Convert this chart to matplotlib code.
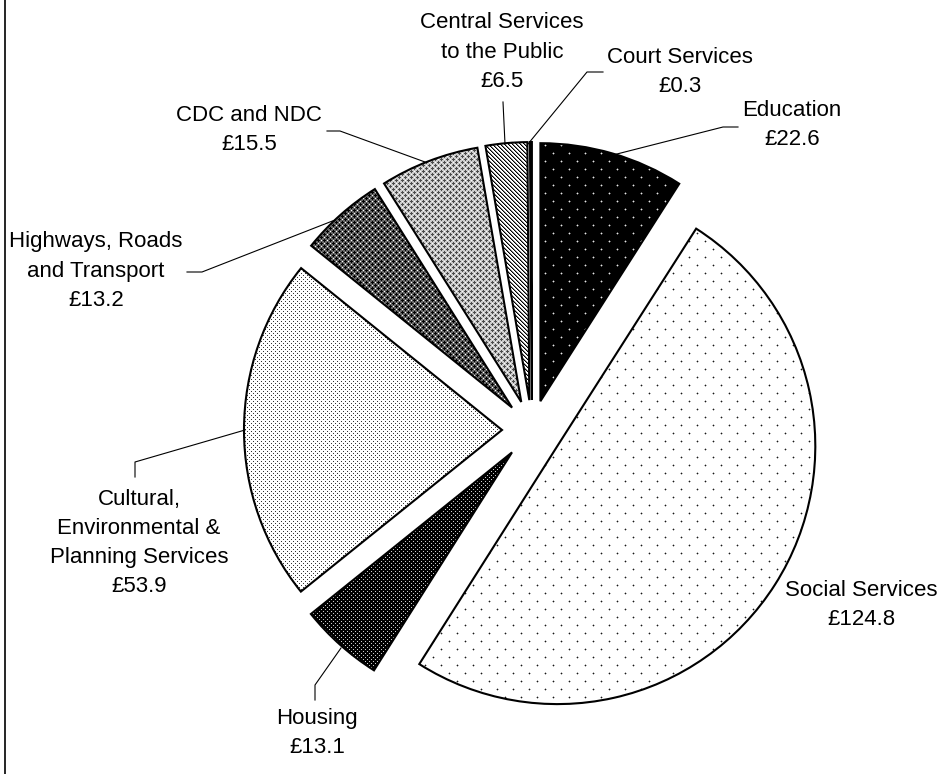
import numpy as np
import matplotlib
matplotlib.use('Agg')
import matplotlib.pyplot as plt

plt.rcParams['font.family'] = ['Liberation Sans', 'DejaVu Sans']

# spending by service, £m
services = ['Education', 'Social Services', 'Housing',
            'Cultural,\nEnvironmental &\nPlanning Services',
            'Highways, Roads\nand Transport', 'CDC and NDC',
            'Central Services\nto the Public', 'Court Services']
spend = [22.6, 124.8, 13.1, 53.9, 13.2, 15.5, 6.5, 0.3]

W, H = 943, 774


def tile(cell):
    cell = np.asarray(cell, float)
    ny = H // cell.shape[0] + 1
    nx = W // cell.shape[1] + 1
    return np.tile(cell, (ny, nx))[:H, :W]


def dots(size, bg, fg, halo=None):
    c = np.full((size, size), bg)
    for r, k in [(1, 1), (size // 2 + 1, size // 2 + 1)]:
        c[r, k] = fg
        if halo is not None:
            for dr, dk in [(0, 1), (0, -1), (1, 0), (-1, 0)]:
                c[r + dr, k + dk] = halo
    return c


def crosses(base, ink, light):
    c = np.full((6, 6), base)
    for r, k in [(0, 0), (3, 3)]:
        for dr, dk in [(0, 0), (0, 1), (0, -1), (1, 0), (-1, 0)]:
            c[(r + dr) % 6, (k + dk) % 6] = ink
    c[0, 3] = light
    c[3, 0] = light
    return c


def stripes():
    c = np.ones((4, 4))
    for r in range(4):
        c[r, r % 4] = 0.0
        c[r, (r + 1) % 4] = 0.5
    return c


fills = [
    dots(16, 0.0, 0.9, 0.35),      # Education
    dots(16, 1.0, 0.1, 0.7),       # Social Services
    dots(4, 0.0, 0.8),             # Housing
    dots(4, 1.0, 0.2),             # Cultural
    crosses(0.4, 0.0, 1.0),        # Highways
    crosses(0.8, 0.3, 1.0),        # CDC and NDC
    stripes(),                     # Central Services
    np.ones((2, 2)),               # Court Services
]

# label centres and leader lines, in pixels from the top-left
label_xy = [(792, 125), (861, 605), (317, 733), (139, 543),
            (96, 271), (249, 130), (502, 52), (680, 72)]
leaders = [
    [(738, 127), (723, 127), (613, 155)],
    None,
    [(315, 700), (315, 685), (341, 648)],
    [(135, 477), (135, 462), (245, 430)],
    [(187, 272), (202, 272), (335, 220)],
    [(327, 131), (340, 131), (425, 162)],
    [(503, 102), (505, 144)],
    [(603, 72), (587, 72), (528, 144)],
]

fig = plt.figure(figsize=(W / 100, H / 100), dpi=100)
ax = fig.add_axes([0, 0, 1, 1])

wedges, _ = ax.pie(spend, startangle=90, counterclock=False,
                   radius=258, center=(532, H - 430),
                   explode=[30] * len(spend), frame=False,
                   wedgeprops=dict(facecolor='none', edgecolor='black',
                                   linewidth=1.5, zorder=3))

for w, pat in zip(wedges, fills):
    im = ax.imshow(tile(pat), cmap='gray', vmin=0, vmax=1,
                   extent=(0, W, 0, H), origin='upper',
                   interpolation='nearest', zorder=1)
    im.set_clip_path(w)

for name, val, (x, y), lead in zip(services, spend, label_xy, leaders):
    ax.text(x, H - y, f'{name}\n£{val:.1f}', ha='center', va='center',
            fontsize=16, linespacing=1.52, multialignment='center')
    if lead:
        xs = [p[0] for p in lead]
        ys = [H - p[1] for p in lead]
        ax.plot(xs, ys, color='black', linewidth=0.8, zorder=4)

# frame edge on the left
ax.plot([5, 5], [0, H], color='black', linewidth=1.2, clip_on=False)

ax.set_xlim(0, W)
ax.set_ylim(0, H)
ax.set_aspect('equal')
ax.axis('off')

fig.savefig('out.png', dpi=100, facecolor='white')
